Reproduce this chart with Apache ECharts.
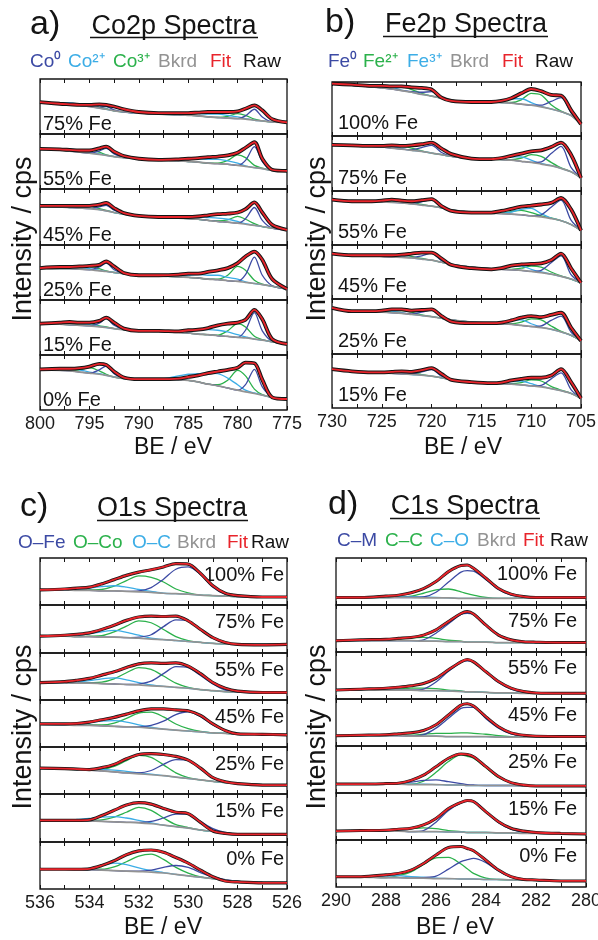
<!DOCTYPE html>
<html>
<head>
<meta charset="utf-8">
<script src="https://cdn.jsdelivr.net/npm/echarts@6/dist/echarts.min.js"></script>
<style>
  html, body { margin: 0; padding: 0; background: #fff; }
  #chart { width: 598px; height: 940px; }
</style>
</head>
<body>
<div id="chart"></div>
<script>
// values; y is % of each strip's height

// ---- a) Co2p ----
const coBE = [800, 798, 797, 796, 795, 794, 793.3, 792.5, 791.5, 790, 788, 786, 785, 784, 783, 782, 781, 780, 779.2, 778.3, 777.5, 776.5, 775];
const coSamples = ['75% Fe', '55% Fe', '45% Fe', '25% Fe', '15% Fe', '0% Fe'];
const coFit = [
    [58,55,54,53,53,54,53,50,45,40,38,38,38,39,40,40,40,41,46,52,43,27,21],
    [73,72,71,70,70,74,77,68,60,55,53,54,55,56,58,59,61,66,75,85,55,35,33],
    [70,70,70,70,70,72,75,66,57,52,50,50,50,51,53,55,56,58,64,76,58,36,27],
    [58,60,60,61,62,64,70,61,49,45,45,46,48,48,51,54,58,67,79,88,73,38,20],
    [57,59,60,59,59,62,68,59,48,44,44,43,45,46,49,54,57,59,64,82,65,29,20],
    [74,75,75,76,79,84,82,70,59,56,56,57,60,63,67,70,73,77,86,85,55,23,20]
];
const coBkg = [
    [58,55,54,52,50,47,45,42,40,38,36,35,34,33,31,30,29,28,27,25,24,22,21],
    [73,71,69,67,65,63,61,59,57,55,53,51,50,49,47,46,45,43,41,39,37,34,33],
    [69,68,67,66,65,63,61,58,55,52,50,48,47,46,44,42,41,39,37,35,33,30,27],
    [58,57,57,56,55,53,52,50,48,46,44,42,41,40,38,37,35,34,32,30,28,25,20],
    [57,56,55,54,53,51,50,48,46,44,43,41,40,38,37,35,34,32,31,29,27,24,20],
    [73,72,71,69,67,65,63,60,57,56,56,55,54,51,47,44,40,36,33,30,27,23,20]
];
// component heights above background
const coCo0 = [
    [0,0,0,0,0,2,5,2,0,0,0,0,0,0,0,0,0,0,6,20,7,0,0],
    [0,0,0,0,0,6,13,5,0,0,0,0,0,0,0,0,0,0,11,38,13,0,0],
    [0,0,0,0,0,5,10,4,0,0,0,0,0,0,0,0,0,0,10,32,11,0,0],
    [0,0,0,0,0,7,15,5,0,0,0,0,0,0,0,0,0,0,14,48,17,1,0],
    [0,0,0,0,0,7,16,6,0,0,0,0,0,0,0,0,0,0,14,48,17,1,0],
    [0,0,0,0,0,8,17,6,0,0,0,0,0,0,0,0,0,0,13,44,15,1,0]
];
const coCo2 = [
    [0,2,3,2,1,0,0,0,0,0,0,2,3,4,5,6,5,3,1,0,0,0,0],
    [0,2,4,3,2,1,0,0,0,0,0,2,4,6,7,8,6,4,1,0,0,0,0],
    [0,2,3,2,1,0,0,0,0,0,0,2,3,4,5,6,5,3,1,0,0,0,0],
    [0,2,4,3,2,1,0,0,0,0,0,2,4,6,7,8,6,4,1,0,0,0,0],
    [0,2,4,3,2,1,0,0,0,0,0,3,5,7,9,10,8,5,2,0,0,0,0],
    [0,3,5,4,2,1,0,0,0,0,0,7,11,15,20,22,18,10,3,1,0,0,0]
];
const coCo3 = [
    [0,0,0,2,4,2,1,0,0,0,0,0,0,0,0,0,3,9,7,2,0,0,0],
    [0,0,0,2,6,4,1,0,0,0,0,0,0,0,0,1,7,19,16,4,1,0,0],
    [0,0,0,2,4,2,1,0,0,0,0,0,0,0,0,1,4,12,9,3,0,0,0],
    [0,0,0,2,6,4,1,0,0,0,0,0,0,0,0,1,10,27,22,6,1,0,0],
    [0,0,0,2,4,2,1,0,0,0,0,0,0,0,0,1,10,25,20,5,1,0,0],
    [0,0,1,4,10,6,2,0,0,0,0,0,0,0,0,2,14,36,29,8,1,0,0]
];

// ---- b) Fe2p ----
const feBE = [730, 728, 726, 725, 724, 723, 722, 721, 720, 719, 718, 716, 714, 713, 712, 711, 710, 709, 708, 707, 706, 705];
const feSamples = ['100% Fe', '75% Fe', '55% Fe', '45% Fe', '25% Fe', '15% Fe'];
const feFit = [
    [97,95,93,93,92,92,90,89,86,71,65,63,63,65,70,79,87,83,76,75,48,22],
    [84,83,82,82,83,82,83,85,88,77,67,59,58,60,64,68,72,74,80,88,66,24],
    [84,81,81,82,84,82,81,83,85,72,63,60,60,63,67,71,73,75,78,87,66,27],
    [84,81,81,81,81,82,84,86,86,75,63,57,55,57,62,64,65,66,72,84,57,30],
    [84,78,78,79,81,81,79,80,81,69,59,56,56,57,61,66,69,67,71,75,48,24],
    [72,68,66,66,67,68,67,70,74,63,52,48,46,47,51,54,56,56,60,72,48,18]
];
const feBkg = [
    [97,94,91,89,87,84,81,77,74,70,66,64,63,62,61,59,57,54,50,45,38,22],
    [84,83,81,80,78,76,74,72,69,66,63,59,58,57,56,54,52,49,46,41,35,24],
    [84,82,81,80,79,78,76,74,72,69,65,61,59,58,57,56,54,52,49,45,38,27],
    [84,82,81,79,78,77,76,74,72,68,64,59,56,55,54,53,51,49,46,42,37,30],
    [84,78,77,76,75,74,72,70,68,65,62,58,56,55,54,52,50,48,45,40,34,24],
    [72,68,66,65,64,63,62,61,59,56,52,48,46,45,44,43,41,39,36,32,27,18]
];
const feFe0 = [
    [0,0,0,0,0,0,1,4,8,2,0,0,0,0,0,0,0,3,14,26,5,0],
    [0,0,0,0,0,0,1,7,14,4,0,0,0,0,0,0,0,4,22,40,8,0],
    [0,0,0,0,0,0,1,6,12,3,0,0,0,0,0,0,0,4,21,38,8,0],
    [0,0,0,0,0,0,1,6,13,3,0,0,0,0,0,0,0,4,21,38,8,0],
    [0,0,0,0,0,0,1,6,12,3,0,0,0,0,0,0,0,3,16,29,6,0],
    [0,0,0,0,0,0,1,6,12,3,0,0,0,0,0,0,0,3,18,33,7,0]
];
const feFe2 = [
    [0,0,0,1,4,7,5,2,0,0,0,0,0,0,1,8,22,22,8,1,0,0],
    [0,0,0,1,3,5,4,1,0,0,0,0,0,0,1,6,14,14,6,1,0,0],
    [0,0,0,0,2,4,3,1,0,0,0,0,0,1,5,8,6,2,1,0,0,0],
    [0,0,0,1,2,4,3,1,0,0,0,0,0,0,1,4,10,10,4,1,0,0],
    [0,0,0,1,3,5,4,1,0,0,0,0,0,0,1,6,14,14,6,1,0,0],
    [0,0,0,0,2,4,3,1,0,0,0,0,0,0,1,4,11,11,4,1,0,0]
];
const feFe3 = [
    [0,0,1,3,3,1,0,0,0,0,0,0,0,2,8,10,5,1,0,0,0,0],
    [0,0,1,3,3,1,0,0,0,0,0,0,0,2,6,8,4,1,0,0,0,0],
    [0,0,1,3,3,1,0,0,0,0,0,0,0,1,4,10,14,6,1,0,0,0],
    [0,0,1,2,2,1,0,0,0,0,0,0,0,2,6,8,4,1,0,0,0,0],
    [0,0,1,3,3,1,0,0,0,0,0,0,0,2,7,10,5,1,0,0,0,0],
    [0,0,1,2,2,1,0,0,0,0,0,0,0,2,5,7,4,1,0,0,0,0]
];

// ---- c) O1s ----
const oBE = [536, 535, 534.5, 534, 533.5, 533, 532.5, 532, 531.5, 531, 530.5, 530, 529.5, 529, 528.5, 528, 527, 526];
const oSamples = ['100% Fe', '75% Fe', '55% Fe', '45% Fe', '25% Fe', '15% Fe', '0% Fe'];
const oFit = [
    [32,34,36,38,45,54,63,70,75,81,88,87,67,41,25,20,17,17],
    [35,37,39,42,49,58,68,75,77,76,77,67,49,32,22,18,17,18],
    [37,39,42,46,53,60,69,77,79,78,79,72,56,37,25,19,16,16],
    [49,49,50,53,58,63,70,77,81,81,79,77,67,49,35,28,27,26],
    [55,54,53,52,56,63,75,84,86,84,80,72,55,35,26,22,19,19],
    [45,45,45,46,55,66,77,82,79,70,62,59,41,23,18,16,16,16],
    [42,42,42,43,50,60,73,81,83,78,67,55,40,26,17,15,13,13]
];
const oBkg = [
    [32,32,31,31,30,30,29,28,27,25,24,23,21,20,19,18,17,17],
    [35,35,34,34,33,33,32,31,29,28,26,24,22,20,19,18,18,18],
    [37,37,36,36,35,34,33,32,30,29,27,25,22,20,18,17,16,16],
    [48,47,46,46,45,44,43,42,40,38,36,34,32,30,29,28,27,26],
    [55,53,52,51,49,47,45,43,41,39,36,33,30,27,24,22,20,19],
    [45,45,45,44,43,42,41,40,38,35,32,29,25,22,19,17,16,16],
    [42,42,41,41,40,39,38,37,36,34,31,28,25,22,19,16,14,13]
];
const oFe = [
    [0,0,0,0,0,0,0,2,10,30,52,58,44,18,4,0,0,0],
    [0,0,0,0,0,0,0,2,9,27,43,43,27,11,2,0,0,0],
    [0,0,0,0,0,0,0,2,10,27,44,44,30,14,3,0,0,0],
    [0,0,0,0,0,0,0,1,6,17,33,41,33,17,6,1,0,0],
    [0,0,0,0,0,0,0,2,9,24,37,38,23,8,1,0,0,0],
    [0,0,0,0,0,0,0,1,5,15,26,29,18,6,1,0,0,0],
    [0,0,0,0,0,0,0,1,4,12,19,18,10,3,1,0,0,0]
];
const oCo = [
    [0,0,0,1,3,10,23,34,32,24,10,3,0,0,0,0,0,0],
    [0,0,0,1,3,11,24,36,34,21,8,2,0,0,0,0,0,0],
    [0,0,0,1,3,11,25,37,35,22,9,2,0,0,0,0,0,0],
    [0,0,0,1,2,7,18,30,34,26,13,5,1,0,0,0,0,0],
    [0,0,0,1,3,12,26,39,37,23,9,2,0,0,0,0,0,0],
    [0,0,0,1,3,10,21,32,28,15,4,1,0,0,0,0,0,0],
    [0,0,0,1,2,8,20,33,38,29,15,6,1,0,0,0,0,0]
];
const oC = [
    [0,0,2,5,9,11,9,5,2,0,0,0,0,0,0,0,0,0],
    [0,0,2,6,11,14,11,6,2,0,0,0,0,0,0,0,0,0],
    [0,0,2,5,10,13,10,5,2,0,0,0,0,0,0,0,0,0],
    [0,0,2,5,10,12,10,5,2,0,0,0,0,0,0,0,0,0],
    [0,0,1,2,3,4,3,2,1,0,0,0,0,0,0,0,0,0],
    [0,0,2,5,9,11,9,5,2,0,0,0,0,0,0,0,0,0],
    [0,0,1,3,10,16,14,8,3,1,0,0,0,0,0,0,0,0]
];

// ---- d) C1s ----
const cBE = [290, 289, 288, 287.5, 287, 286.5, 286, 285.5, 285, 284.75, 284.5, 284, 283.5, 283, 282.5, 282, 281, 280];
const cSamples = ['100% Fe', '75% Fe', '55% Fe', '45% Fe', '25% Fe', '15% Fe', '0% Fe'];
const cFit = [
    [16,16,19,21,26,35,50,71,84,85,78,57,35,23,18,16,16,16],
    [24,26,27,29,31,36,47,65,82,86,81,57,36,26,22,21,20,20],
    [19,21,23,25,28,33,44,62,79,84,79,58,37,23,16,13,12,12],
    [22,23,24,26,28,33,45,66,87,90,85,62,41,28,23,21,20,20],
    [19,19,20,21,27,38,56,74,83,82,77,56,35,22,17,15,15,15],
    [19,20,21,23,25,32,46,67,80,84,82,60,39,25,19,16,14,13],
    [22,22,26,29,36,50,68,84,86,82,77,57,36,22,16,15,13,13]
];
const cBkg = [
    [16,16,16,16,16,15,15,15,14,14,14,14,14,14,15,15,16,16],
    [24,24,24,24,24,23,23,22,22,21,21,21,20,20,20,20,20,20],
    [19,19,19,19,19,18,18,17,16,15,15,14,13,13,12,12,12,12],
    [22,22,22,22,21,21,21,20,20,20,20,20,19,19,19,19,20,20],
    [19,19,19,19,18,18,18,17,17,16,16,16,16,16,15,15,15,15],
    [19,19,19,19,18,18,18,17,17,16,16,16,15,15,14,14,13,13],
    [21,21,20,20,19,19,18,18,17,17,17,16,16,15,15,14,13,13]
];
const cM = [
    [0,0,0,0,0,2,12,34,56,59,58,40,19,7,2,0,0,0],
    [0,0,0,0,0,3,17,38,58,61,60,36,17,6,1,0,0,0],
    [0,0,0,0,0,3,18,42,62,66,64,44,22,8,2,0,0,0],
    [0,0,0,0,0,3,17,39,60,62,62,38,19,7,2,0,0,0],
    [0,0,1,2,5,9,10,7,3,2,1,0,0,0,0,0,0,0],
    [0,0,0,0,0,2,20,46,62,66,66,44,22,8,2,0,0,0],
    [0,0,0,0,0,1,5,20,37,41,44,36,18,6,1,0,0,0]
];
const cC = [
    [0,0,0,1,3,10,17,19,14,10,7,2,0,0,0,0,0,0],
    [0,0,1,3,6,8,6,3,1,0,0,0,0,0,0,0,0,0],
    [0,0,1,2,4,5,4,2,1,0,0,0,0,0,0,0,0,0],
    [0,0,0,1,2,4,6,7,8,8,7,5,3,1,0,0,0,0],
    [0,0,0,0,1,7,26,50,64,62,58,38,17,6,1,0,0,0],
    [0,0,1,3,6,8,6,3,1,0,0,0,0,0,0,0,0,0],
    [0,0,0,4,13,29,44,45,32,22,12,3,0,0,0,0,0,0]
];
const cO = [
    [0,0,1,1,2,2,1,0,0,0,0,0,0,0,0,0,0,0],
    [0,0,0,0,0,0,0,0,0,0,0,0,0,0,0,0,0,0],
    [0,0,0,0,0,0,0,0,0,0,0,0,0,0,0,0,0,0],
    [0,0,0,0,0,0,0,0,0,0,0,0,0,0,0,0,0,0],
    [0,0,1,1,1,1,0,0,0,0,0,0,0,0,0,0,0,0],
    [0,0,0,0,0,0,0,0,0,0,0,0,0,0,0,0,0,0],
    [0,1,3,4,3,2,1,0,0,0,0,0,0,0,0,0,0,0]
];

const FONT = "'Liberation Sans', Arial, sans-serif";
const BLUE = '#3c4aa4', LBLUE = '#3cade6', GREEN = '#2bb14b', GRAY = '#939393', RED = '#e8242b', BLACK = '#141414';

// layout of the four stacks
const panels = [
    { be: coBE, samples: coSamples, fit: coFit, bkg: coBkg, comps: [[coCo3, GREEN], [coCo2, LBLUE], [coCo0, BLUE]],
      left: 40, width: 247, top: 79, bottom: 410, min: 775, max: 800, step: 2.5, every: 5, raw: 3.8,
      tag: { right: false, dx: 3, dy: -10 } },
    { be: feBE, samples: feSamples, fit: feFit, bkg: feBkg, comps: [[feFe2, GREEN], [feFe3, LBLUE], [feFe0, BLUE]],
      left: 332, width: 249, top: 82, bottom: 408, min: 705, max: 730, step: 2.5, every: 5, raw: 3.8,
      tag: { right: false, dx: 6, dy: -13 } },
    { be: oBE, samples: oSamples, fit: oFit, bkg: oBkg, comps: [[oCo, GREEN], [oC, LBLUE], [oFe, BLUE]],
      left: 40, width: 247, top: 558, bottom: 889, min: 526, max: 536, step: 1, every: 2, raw: 3.2,
      tag: { right: true, dx: -3, dy: 17 } },
    { be: cBE, samples: cSamples, fit: cFit, bkg: cBkg, comps: [[cC, GREEN], [cO, LBLUE], [cM, BLUE]],
      left: 336, width: 250, top: 558, bottom: 887, min: 280, max: 290, step: 1, every: 2, raw: 3,
      tag: { right: true, dx: -9, dy: 16 } }
];

const heads = [
    { letter: 'a)', lx: 30, title: 'Co2p Spectra', tx: 174, base: 35.5, ul: [90, 258, 37.5], ly: 62,
      legend: [['Co⁰', BLUE, 30], ['Co²⁺', LBLUE, 68], ['Co³⁺', GREEN, 113], ['Bkrd', GRAY, 158], ['Fit', RED, 210], ['Raw', BLACK, 243]],
      xlab: [173, 448], ylab: [24, 239] },
    { letter: 'b)', lx: 325, title: 'Fe2p Spectra', tx: 466, base: 34, ul: [383, 548, 36.5], ly: 62,
      legend: [['Fe⁰', BLUE, 328], ['Fe²⁺', GREEN, 363], ['Fe³⁺', LBLUE, 407], ['Bkrd', GRAY, 450], ['Fit', RED, 502], ['Raw', BLACK, 535]],
      xlab: [463, 448], ylab: [318, 239] },
    { letter: 'c)', lx: 20, title: 'O1s Spectra', tx: 172, base: 517.5, ul: [97, 248, 520.5], ly: 543,
      legend: [['O–Fe', BLUE, 18], ['O–Co', GREEN, 73], ['O–C', LBLUE, 132], ['Bkrd', GRAY, 177], ['Fit', RED, 227], ['Raw', BLACK, 251]],
      xlab: [163, 928], ylab: [24, 727] },
    { letter: 'd)', lx: 328, title: 'C1s Spectra', tx: 465, base: 515.5, ul: [390, 540, 518.5], ly: 541,
      legend: [['C–M', BLUE, 337], ['C–C', GREEN, 385], ['C–O', LBLUE, 430], ['Bkrd', GRAY, 477], ['Fit', RED, 523], ['Raw', BLACK, 550]],
      xlab: [455, 928], ylab: [318, 727] }
];

const txt = (text, x, y, size, opt = {}) => ({
    type: 'text', x, y, rotation: opt.rotation || 0, silent: true,
    style: {
        text, fill: opt.color || BLACK, font: `${ size }px ${ FONT }`,
        textAlign: opt.align || 'left', align: opt.align || 'left',
        textVerticalAlign: 'middle', verticalAlign: 'middle'
    }
});

const makeX = (p, gi, position, labels) => ({
    type: 'value', gridIndex: gi, position, min: p.min, max: p.max, interval: p.step, inverse: true,
    axisLine: { show: false },
    splitLine: { show: false },
    axisTick: { show: true, inside: true, length: 4, lineStyle: { color: BLACK, width: 1 } },
    axisLabel: {
        show: labels, margin: 5, color: '#1a1a1a', fontSize: 18, fontFamily: FONT,
        showMinLabel: true, showMaxLabel: true,
        formatter: v => (Math.abs(v % p.every) < 1e-6 ? String(v) : '')
    }
});

const curve = (xi, yi, data, color, width) => ({
    type: 'line', xAxisIndex: xi, yAxisIndex: yi, data, symbol: 'none', smooth: 0.3,
    lineStyle: { color, width }, silent: true, animation: false
});

const grids = [], xAxes = [], yAxes = [], series = [], graphics = [];

panels.forEach(p => {
    const n = p.samples.length;
    const h = (p.bottom - p.top) / n;
    p.samples.forEach((name, i) => {
        const gi = grids.length;
        const top = Math.round(p.top + i * h);
        const bot = Math.round(p.top + (i + 1) * h);
        grids.push({
            left: p.left, top, width: p.width, height: bot - top, show: true,
            borderColor: BLACK, borderWidth: 1.3, backgroundColor: 'transparent',
            containLabel: false, outerBoundsMode: 'none'
        });
        const xi = xAxes.length;
        xAxes.push(makeX(p, gi, 'bottom', i === n - 1));
        xAxes.push(makeX(p, gi, 'top', false));
        yAxes.push({ type: 'value', gridIndex: gi, min: 0, max: 100, show: false });

        const bkg = p.bkg[i];
        p.comps.forEach(([rows, color]) => {
            series.push(curve(xi, gi, p.be.map((x, k) => [x, bkg[k] + rows[i][k]]), color, 1.3));
        });
        series.push(curve(xi, gi, p.be.map((x, k) => [x, bkg[k]]), GRAY, 1.7));
        const fit = p.be.map((x, k) => [x, p.fit[i][k]]);
        series.push(curve(xi, gi, fit, BLACK, p.raw));   // raw trace under the fit
        series.push(curve(xi, gi, fit, RED, 1.8));

        // sample name inside each strip
        if (p.tag.right) {
            graphics.push(txt(name, p.left + p.width + p.tag.dx, top + p.tag.dy, 20, { align: 'right' }));
        } else {
            graphics.push(txt(name, p.left + p.tag.dx, bot + p.tag.dy, 20));
        }
    });
});

heads.forEach(hd => {
    graphics.push(txt(hd.letter, hd.lx, hd.base - 11, 34));
    graphics.push(txt(hd.title, hd.tx, hd.base - 9, 27, { align: 'center' }));
    graphics.push({
        type: 'line', silent: true,
        shape: { x1: hd.ul[0], y1: hd.ul[2], x2: hd.ul[1], y2: hd.ul[2] },
        style: { stroke: BLACK, lineWidth: 1.5 }
    });
    hd.legend.forEach(([t, c, x]) => graphics.push(txt(t, x, hd.ly, 19, { color: c })));
    graphics.push(txt('BE / eV', hd.xlab[0], hd.xlab[1], 23, { align: 'center' }));
    graphics.push(txt('Intensity / cps', hd.ylab[0], hd.ylab[1], 27, { align: 'center', rotation: Math.PI / 2 }));
});

const chart = echarts.init(document.getElementById('chart'), null, { renderer: 'canvas' });
chart.setOption({
    backgroundColor: '#fff',
    animation: false,
    grid: grids,
    xAxis: xAxes,
    yAxis: yAxes,
    series,
    graphic: graphics
});
</script>
</body>
</html>
